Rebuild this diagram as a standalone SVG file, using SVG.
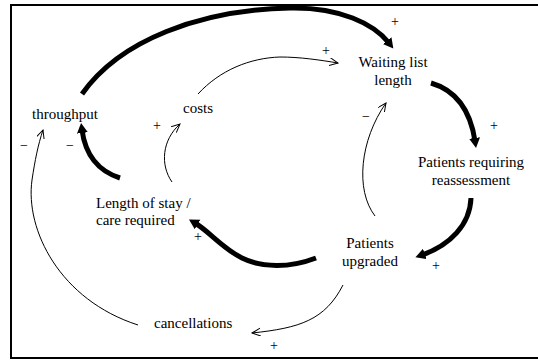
<svg xmlns="http://www.w3.org/2000/svg" width="538" height="362" viewBox="0 0 538 362">
<style>
text{font-family:"Liberation Serif","Times New Roman",serif;font-size:15px;fill:#000}
.s{font-size:14px}
.thin{fill:none;stroke:#000;stroke-width:1}
.thick{fill:none;stroke:#000;stroke-width:5}
</style>
<defs>
<marker id="ah" markerUnits="userSpaceOnUse" markerWidth="12" markerHeight="12" refX="3" refY="5.5" orient="auto">
<path d="M0,0 L10,5.5 L0,11 z" fill="#000"/>
</marker>
<marker id="ao" markerUnits="userSpaceOnUse" markerWidth="10" markerHeight="10" refX="8.5" refY="4" orient="auto">
<path d="M0,0 L8.5,4 L0,8" fill="none" stroke="#000" stroke-width="1"/>
</marker>
</defs>
<rect x="11" y="5" width="540" height="353" fill="#fff" stroke="#000" stroke-width="2"/>
<g id="connectors">
<path class="thick" d="M82,94 C120,40 200,10 290,8 C340,7 374,24 389,43" marker-end="url(#ah)"/>
<path class="thin" d="M198,94 C220,70 250,58 280,57 C300,57 320,60 338,63" marker-end="url(#ao)"/>
<path class="thick" d="M431,83 C455,90 470,108 475,141" marker-end="url(#ah)"/>
<path class="thick" d="M471,198 C470,225 450,245 422,255" marker-end="url(#ah)"/>
<path class="thin" d="M375,216 C355,190 360,140 386,103" marker-end="url(#ao)"/>
<path class="thick" d="M316,258 C290,268 262,268 242,258 C222,248 210,232 195,223" marker-end="url(#ah)"/>
<path class="thin" d="M172,182 C160,165 162,140 180,124" marker-end="url(#ao)"/>
<path class="thick" d="M120,178 C95,170 85,152 82,130" marker-end="url(#ah)"/>
<path class="thin" d="M138,325 C60,300 25,230 32,180 C35,160 38,145 43,130" marker-end="url(#ao)"/>
<path class="thin" d="M343,285 C325,320 300,328 252,333" marker-end="url(#ao)"/>
</g>
<g id="throughput"><text x="32" y="119">throughput</text></g>
<g id="costs"><text x="183" y="113">costs</text></g>
<g id="waiting"><text x="393" y="67" text-anchor="middle">Waiting list</text><text x="393" y="85" text-anchor="middle">length</text></g>
<g id="reassess"><text x="471" y="167" text-anchor="middle">Patients requiring</text><text x="471" y="185" text-anchor="middle">reassessment</text></g>
<g id="upgraded"><text x="370" y="248" text-anchor="middle">Patients</text><text x="370" y="266" text-anchor="middle">upgraded</text></g>
<g id="los"><text x="96" y="208">Length of stay /</text><text x="96" y="225">care required</text></g>
<g id="cancellations"><text x="154" y="328">cancellations</text></g>
<g id="signs">
<text class="s" x="395" y="26" text-anchor="middle">+</text>
<text class="s" x="326" y="55" text-anchor="middle">+</text>
<text class="s" x="494" y="130" text-anchor="middle">+</text>
<text class="s" x="366" y="121" text-anchor="middle">−</text>
<text class="s" x="157" y="130" text-anchor="middle">+</text>
<text class="s" x="24" y="150" text-anchor="middle">−</text>
<text class="s" x="70" y="150" text-anchor="middle">−</text>
<text class="s" x="198" y="241" text-anchor="middle">+</text>
<text class="s" x="436" y="270" text-anchor="middle">+</text>
<text class="s" x="274" y="350" text-anchor="middle">+</text>
</g>
</svg>
